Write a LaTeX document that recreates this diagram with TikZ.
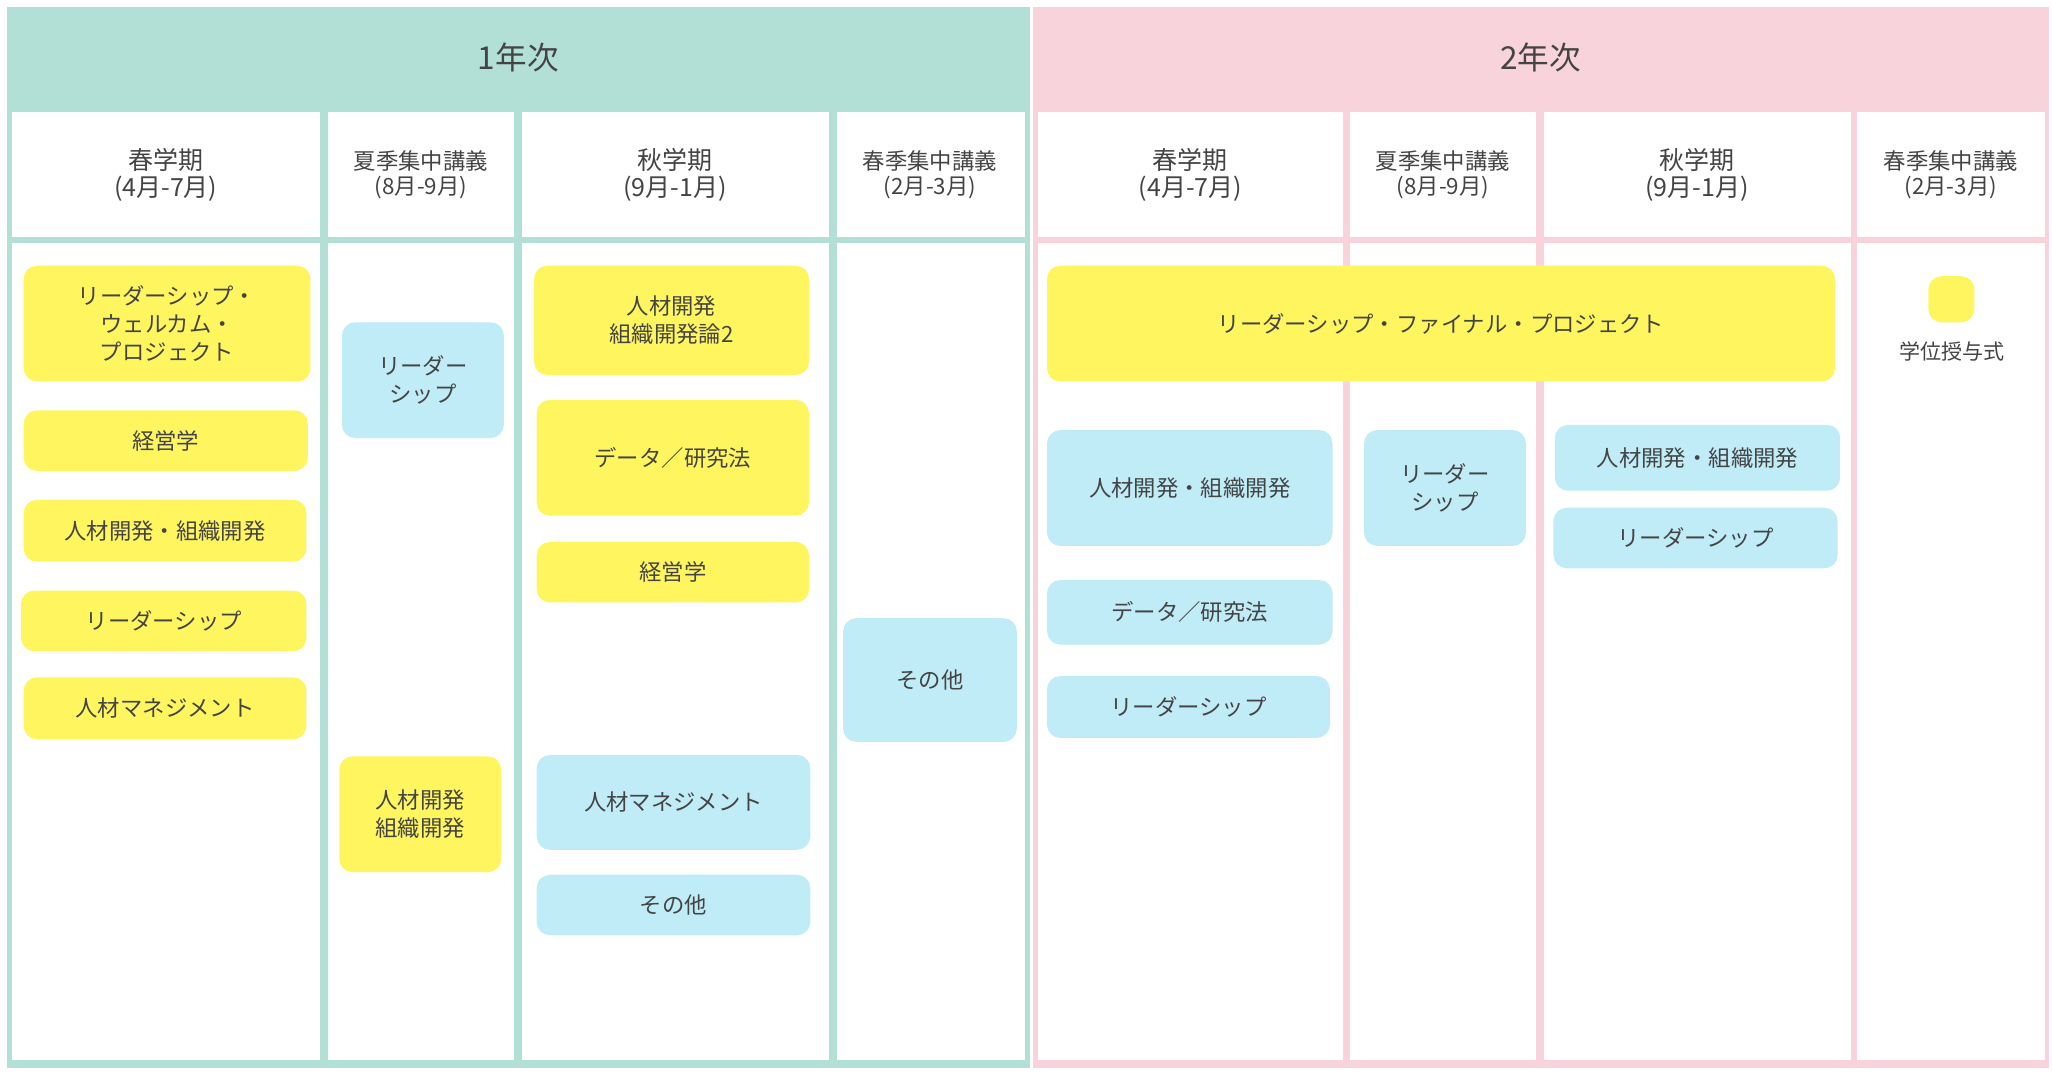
\documentclass[tikz,border=0pt]{standalone}
\usepackage{fontspec}
\setmainfont{Noto Sans CJK JP}
\definecolor{teal1}{HTML}{B2DFD6}
\definecolor{pink2}{HTML}{F9D3DC}
\definecolor{yel}{HTML}{FFF65F}
\definecolor{blu}{HTML}{C0ECF7}
\definecolor{txt}{HTML}{444444}
\tikzset{
  cell/.style={fill=white, draw=none},
  course/.style={rounded corners=10pt, align=center, text=txt, font=\fontsize{17}{21}\selectfont, inner sep=0pt},
  ybox/.style={course, fill=yel},
  bbox/.style={course, fill=blu},
  yearhead/.style={text=txt, font=\fontsize{24}{28}\selectfont},
  termhead/.style={text=txt, align=center, font=\fontsize{19}{21}\selectfont},
  shorthead/.style={text=txt, align=center, font=\fontsize{17}{19}\selectfont},
}
\newcommand{\course}[7]{% style, name, x1, y1, x2, y2, text
  \node[#1, minimum width=#5pt-#3pt, minimum height=#6pt-#4pt] (#2) at ({(#3+#5)/2},{(#4+#6)/2}) {#7};}
\begin{document}
\begin{tikzpicture}[x=1pt,y=-1pt]
  \useasboundingbox (0,0) rectangle (1560,816.5);
  % frames
  \fill[teal1] (5,5) rectangle (783,812);
  \fill[pink2] (785,5) rectangle (1558,812);
  \node[yearhead] (y1) at (394,44) {1年次};
  \node[yearhead] (y2) at (1171,44) {2年次};
  % cells
  \foreach \a/\b in {9/243, 249/391, 397/630, 636/779, 789/1021, 1026/1168, 1174/1407, 1412/1555} {
    \fill[cell] (\a,85) rectangle (\b,180);
    \fill[cell] (\a,185) rectangle (\b,806);
  }
  % term headings
  \node[termhead] (s1) at (126,133) {春学期\\(4月-7月)};
  \node[shorthead] (u1) at (320,133) {夏季集中講義\\(8月-9月)};
  \node[termhead] (a1) at (513,133) {秋学期\\(9月-1月)};
  \node[shorthead] (w1) at (707,133) {春季集中講義\\(2月-3月)};
  \node[termhead] (s2) at (905,133) {春学期\\(4月-7月)};
  \node[shorthead] (u2) at (1097,133) {夏季集中講義\\(8月-9月)};
  \node[termhead] (a2) at (1290,133) {秋学期\\(9月-1月)};
  \node[shorthead] (w2) at (1483,133) {春季集中講義\\(2月-3月)};
  % year 1
  \course{ybox}{lwp}{18}{202}{236}{290}{リーダーシップ・\\ウェルカム・\\プロジェクト}
  \course{ybox}{mgt1}{18}{312}{234}{358}{経営学}
  \course{ybox}{hrd1}{18}{380}{233}{427}{人材開発・組織開発}
  \course{ybox}{ld1}{16}{449}{233}{495}{リーダーシップ}
  \course{ybox}{hrm1}{18}{515}{233}{562}{人材マネジメント}
  \course{bbox}{ld2}{260}{245}{383}{333}{リーダー\\シップ}
  \course{ybox}{hrd2}{258}{575}{381}{663}{人材開発\\組織開発}
  \course{ybox}{hrd3}{406}{202}{615}{285}{人材開発\\組織開発論2}
  \course{ybox}{dat1}{408}{304}{615}{392}{データ／研究法}
  \course{ybox}{mgt2}{408}{412}{615}{458}{経営学}
  \course{bbox}{hrm2}{408}{574}{616}{646}{人材マネジメント}
  \course{bbox}{oth1}{408}{665}{616}{711}{その他}
  \course{bbox}{oth2}{641}{470}{773}{564}{その他}
  % year 2
  \course{ybox}{lfp}{796}{202}{1395}{290}{リーダーシップ・ファイナル・プロジェクト}
  \course{bbox}{hrd4}{796}{327}{1013}{415}{人材開発・組織開発}
  \course{bbox}{dat2}{796}{441}{1013}{490}{データ／研究法}
  \course{bbox}{ld3}{796}{514}{1011}{561}{リーダーシップ}
  \course{bbox}{ld4}{1037}{327}{1160}{415}{リーダー\\シップ}
  \course{bbox}{hrd5}{1182}{323}{1399}{373}{人材開発・組織開発}
  \course{bbox}{ld5}{1181}{386}{1397}{432}{リーダーシップ}
  \course{ybox}{deg}{1466}{210}{1501}{245}{}
  \node[text=txt, font=\fontsize{16}{18}\selectfont] (degl) at (1484,267) {学位授与式};
\end{tikzpicture}
\end{document}
